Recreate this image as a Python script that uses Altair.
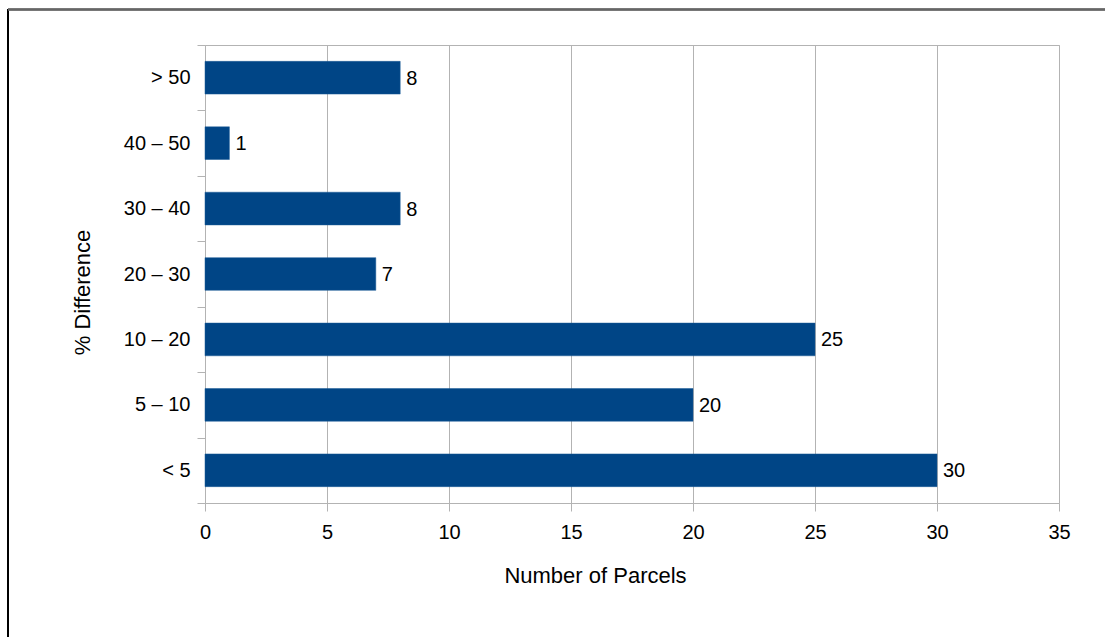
import altair as alt
import pandas as pd

categories = ["> 50", "40 – 50", "30 – 40", "20 – 30", "10 – 20", "5 – 10", "< 5"]
values = [8, 1, 8, 7, 25, 20, 30]

df = pd.DataFrame({"cat": categories, "n": values})

FONT = "Liberation Sans"
GRID = "#b3b3b3"
BAR = "#004586"

W, H = 854, 458
PL, PT = 205, 45

y_enc = alt.Y(
    "cat:N",
    sort=categories,
    scale=alt.Scale(paddingInner=0, paddingOuter=0),
    axis=alt.Axis(
        title="% Difference",
        titleFont=FONT, titleFontSize=22, titleFontWeight="normal", titleColor="#000000",
        titlePadding=29, titleY=247,
        labelFont=FONT, labelFontSize=20, labelColor="#000000", labelPadding=7,
        tickBand="extent", tickColor=GRID, tickSize=8, tickWidth=1,
        domain=False, grid=False,
    ),
)

x_enc = alt.X(
    "n:Q",
    scale=alt.Scale(domain=[0, 35], nice=False),
    axis=alt.Axis(
        values=[0, 5, 10, 15, 20, 25, 30, 35],
        title="Number of Parcels",
        titleFont=FONT, titleFontSize=22, titleFontWeight="normal", titleColor="#000000",
        titlePadding=23, titleX=390,
        labelFont=FONT, labelFontSize=20, labelColor="#000000", labelPadding=11,
        labelFlush=False,
        tickColor=GRID, tickSize=8, tickWidth=1,
        gridColor=GRID, gridWidth=1, domain=False,
    ),
)

bars = alt.Chart(df).mark_bar(
    color=BAR, stroke="#1a5a96", strokeWidth=0.5, height={"band": 0.5}
).encode(x=x_enc, y=y_enc)

labels = alt.Chart(df).mark_text(
    align="left", baseline="middle", dx=6, dy=1, font=FONT, fontSize=20, color="#000000"
).encode(x="n:Q", y=alt.Y("cat:N", sort=categories), text="n:Q")

left_border = alt.Chart(df).mark_rule(color="#000000", strokeWidth=1.5).encode(
    x=alt.value(8 - PL), y=alt.value(9 - PT), y2=alt.value(637 - PT)
)
top_border = alt.Chart(df).mark_rule(color="#666666", strokeWidth=1.5).encode(
    x=alt.value(8 - PL), x2=alt.value(1105 - PL), y=alt.value(9.5 - PT)
)

chart = alt.layer(bars, labels, left_border, top_border).properties(
    width=W, height=H,
    autosize=alt.AutoSizeParams(type="none"),
    padding={"left": PL, "top": PT, "right": 1105 - PL - W, "bottom": 637 - PT - H},
    background="#ffffff",
).configure_view(stroke=GRID, strokeWidth=1)

chart.save("out.html", embed_options={"renderer": "svg", "actions": False})
